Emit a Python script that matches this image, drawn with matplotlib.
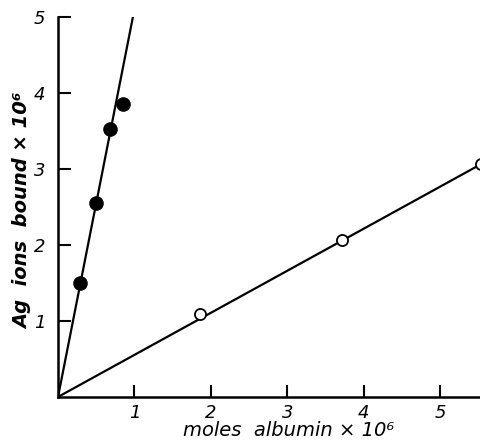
import matplotlib
matplotlib.use("Agg")
import matplotlib.pyplot as plt
import numpy as np

# data
filled_x = [0.29, 0.50, 0.68, 0.85]
filled_y = [1.50, 2.55, 3.52, 3.85]
open_x = [1.86, 3.71, 5.53]
open_y = [1.09, 2.06, 3.06]
steep_line_x = [0.0, 0.98]
steep_line_y = [0.0, 5.0]
shallow_line_x = [0.0, 5.6]
shallow_line_y = [0.0, 3.1]
xticks = [1, 2, 3, 4, 5]
yticks = [1, 2, 3, 4, 5]

fig = plt.figure(figsize=(4.81, 4.45), dpi=100)
ax = fig.add_axes([0.1206, 0.108, 0.879, 0.854])
ax.set_xlim(0, 5.53)
ax.set_ylim(0, 5.0)

ax.plot(steep_line_x, steep_line_y, color='black', lw=1.6)
ax.plot(shallow_line_x, shallow_line_y, color='black', lw=1.6)
ax.plot(filled_x, filled_y, 'o', color='black', ms=9.5, zorder=3)
ax.plot(open_x, open_y, 'o', mfc='white', mec='black', mew=1.3, ms=8, zorder=3)

for s in ['top', 'right']:
    ax.spines[s].set_visible(False)
for s in ['left', 'bottom']:
    ax.spines[s].set_linewidth(1.8)

ax.set_xticks(xticks)
ax.set_yticks(yticks)
ax.set_xticklabels([str(v) for v in xticks], fontsize=13, style='italic')
ax.set_yticklabels([str(v) for v in yticks], fontsize=13, style='italic')
ax.tick_params(axis='x', direction='in', length=9, width=1.5, pad=5)
ax.tick_params(axis='y', direction='in', length=9, width=1.5, pad=9)

ax.set_xlabel('moles  albumin × 10⁶', fontsize=14, style='italic')
ax.xaxis.set_label_coords(0.545, -0.062)
ax.set_ylabel('Ag  ions  bound × 10⁶', fontsize=14, style='italic',
              fontweight='bold')
ax.yaxis.set_label_coords(-0.062, 0.49)

fig.savefig('out.png', dpi=100)
